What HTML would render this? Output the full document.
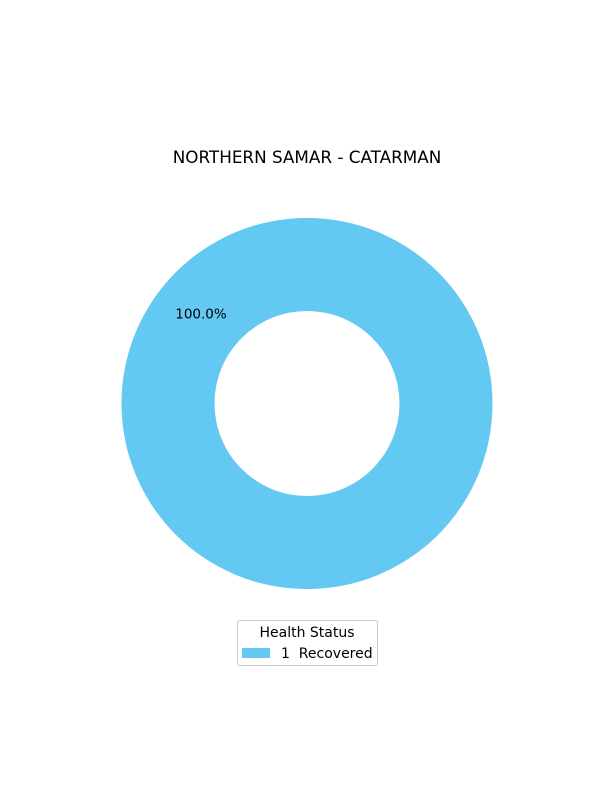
<!DOCTYPE html>
<html><head><meta charset="utf-8"><style>
html,body{margin:0;padding:0;background:#fff;}
svg{display:block;font-family:"DejaVu Sans","Liberation Sans",sans-serif;}
</style></head><body>
<svg id="chart" width="600" height="800" viewBox="0 0 600 800">
<rect width="600" height="800" fill="#fff"/>
<text x="307" y="163" text-anchor="middle" font-size="16.8" fill="#000">NORTHERN SAMAR - CATARMAN</text>
<g id="slices"></g>
<g>
<rect x="237.5" y="620.5" width="140" height="45" rx="2" fill="#fff" stroke="#ccc"/>
<text x="307" y="637" text-anchor="middle" font-size="14">Health Status</text>
<g id="legend-entries"></g>
</g>
</svg>
<script>
const categories = ["1  Recovered"];
const values = [1];
const colors = ["#63c8f2"];
const cx = 307, cy = 403.5, R = 185.5, r = 92.5;
const svg = document.getElementById('slices');
const ns = "http://www.w3.org/2000/svg";
const total = values.reduce((a,b)=>a+b,0);
let ang = 90;
values.forEach((v,i)=>{
  const sweep = v/total*360;
  const a0 = ang*Math.PI/180, a1 = (ang+sweep)*Math.PI/180;
  let el;
  if (sweep >= 359.999) {
    el = document.createElementNS(ns,'path');
    el.setAttribute('d', `M${cx-R},${cy}a${R},${R} 0 1,0 ${2*R},0a${R},${R} 0 1,0 ${-2*R},0Z M${cx-r},${cy}a${r},${r} 0 1,1 ${2*r},0a${r},${r} 0 1,1 ${-2*r},0Z`);
    el.setAttribute('fill-rule','evenodd');
  } else {
    const large = sweep>180?1:0;
    const p = (rad,a)=>[cx+rad*Math.cos(a), cy-rad*Math.sin(a)];
    const [x0,y0]=p(R,a0),[x1,y1]=p(R,a1),[x2,y2]=p(r,a1),[x3,y3]=p(r,a0);
    el = document.createElementNS(ns,'path');
    el.setAttribute('d',`M${x0},${y0}A${R},${R} 0 ${large},0 ${x1},${y1}L${x2},${y2}A${r},${r} 0 ${large},1 ${x3},${y3}Z`);
  }
  el.setAttribute('fill', colors[i%colors.length]);
  
  
  svg.appendChild(el);
  const mid = (ang + sweep/2)*Math.PI/180;
  const lr = R*0.6;
  let lx = cx + lr*Math.cos(mid), ly = cy - lr*Math.sin(mid);
  if (sweep>=359.999){ lx = cx-106; ly = cy-90; }
  const t = document.createElementNS(ns,'text');
  t.setAttribute('x', lx); t.setAttribute('y', ly+5);
  t.setAttribute('text-anchor','middle'); t.setAttribute('font-size','13.5');
  t.textContent = (v/total*100).toFixed(1)+'%';
  
  
  svg.appendChild(t);
  ang += sweep;
});
const lg = document.getElementById('legend-entries');
categories.forEach((c,i)=>{
  const y = 648 + i*20;
  const rc = document.createElementNS(ns,'rect');
  rc.setAttribute('x',242); rc.setAttribute('y',y); rc.setAttribute('width',28); rc.setAttribute('height',10);
  rc.setAttribute('fill',colors[i%colors.length]);
  
  
  lg.appendChild(rc);
  const t = document.createElementNS(ns,'text');
  t.setAttribute('x',281); t.setAttribute('y',y+10); t.setAttribute('font-size','14');
  t.setAttribute('xml:space','preserve'); t.style.whiteSpace='pre';
  t.textContent = c;
  
  
  lg.appendChild(t);
});
</script>
</body></html>
